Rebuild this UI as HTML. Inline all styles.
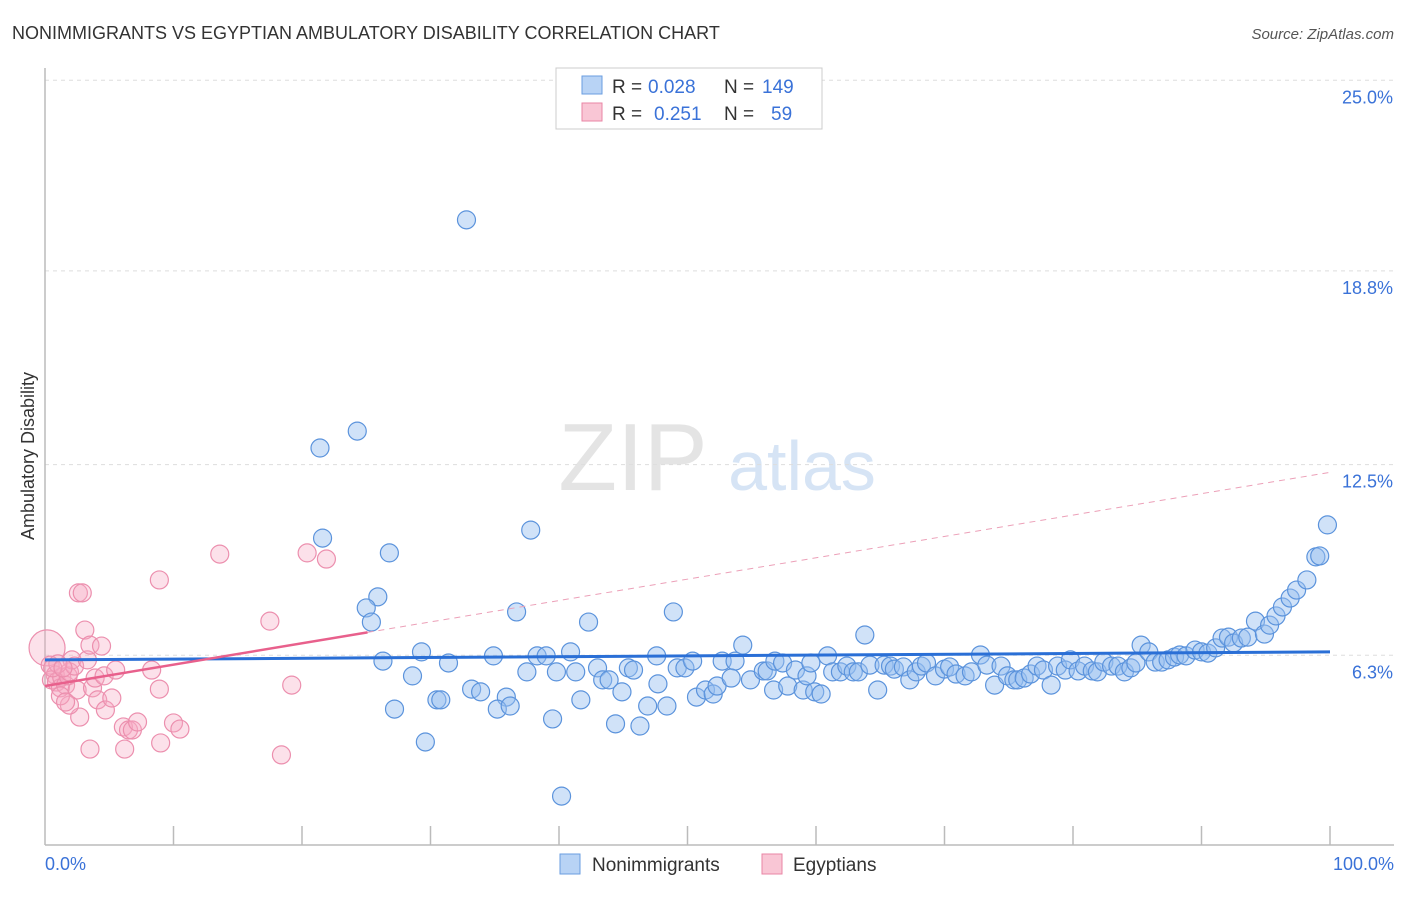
<!DOCTYPE html>
<html><head><meta charset="utf-8"><style>
body{margin:0;background:#fff;font-family:"Liberation Sans",sans-serif;}
svg text{font-family:"Liberation Sans",sans-serif;}
</style></head><body>
<svg id="chart" width="1406" height="892" xmlns="http://www.w3.org/2000/svg">
<text x="12" y="39" font-size="18" fill="#333">NONIMMIGRANTS VS EGYPTIAN AMBULATORY DISABILITY CORRELATION CHART</text>
<text x="1394" y="39" font-size="15" fill="#555" text-anchor="end" font-style="italic">Source: ZipAtlas.com</text>
<g>
<text x="633" y="490" font-size="96" fill="#e4e4e4" text-anchor="middle" font-family="Liberation Serif">ZIP</text>
<text x="802" y="490" font-size="70" fill="#d6e4f5" text-anchor="middle">atlas</text>
</g>
<g id="grid"></g>
<g id="axes"></g>
<g id="marks"></g>
<text transform="translate(34,456) rotate(-90)" font-size="18" fill="#333" text-anchor="middle">Ambulatory Disability</text>
<g>
<rect x="556" y="68" width="266" height="61" fill="#fff" stroke="#ccc"/>
<rect x="582" y="76" width="20" height="18" fill="#b8d3f5" stroke="#6a9ee0"/>
<text x="612" y="93" font-size="19" fill="#333">R =</text><text x="648" y="93" font-size="19" fill="#3a72d8">0.028</text>
<text x="724" y="93" font-size="19" fill="#333">N =</text><text x="762" y="93" font-size="19" fill="#3a72d8">149</text>
<rect x="582" y="103" width="20" height="18" fill="#f9c6d5" stroke="#e985a5"/>
<text x="612" y="120" font-size="19" fill="#333">R =</text><text x="654" y="120" font-size="19" fill="#3a72d8">0.251</text>
<text x="724" y="120" font-size="19" fill="#333">N =</text><text x="771" y="120" font-size="19" fill="#3a72d8">59</text>
</g>
<g>
<rect x="560" y="854" width="20" height="20" fill="#b8d3f5" stroke="#6a9ee0"/>
<text x="592" y="871" font-size="19" fill="#333">Nonimmigrants</text>
<rect x="762" y="854" width="20" height="20" fill="#f9c6d5" stroke="#e985a5"/>
<text x="793" y="871" font-size="19" fill="#333">Egyptians</text>
</g>
</svg>
<script>
const yTicks=[6.3,12.5,18.8,25.0];
const yTickLabels=["6.3%","12.5%","18.8%","25.0%"];
const xTickLabels=["0.0%","100.0%"];
const blueX=[32.8,21.4,24.3,37.8,21.6,26.8,25.9,25.0,25.4,36.7,48.9,42.3,54.3,63.8,29.3,26.3,31.4,34.9,38.3,39.0,40.9,28.6,27.2,30.5,30.8,29.6,33.2,33.9,35.9,35.2,36.2,39.5,40.2,37.5,39.8,41.3,43.0,43.4,43.9,41.7,44.9,44.4,46.3,45.4,45.8,47.7,47.6,46.9,48.4,49.2,49.8,50.4,50.7,51.4,52.0,52.3,52.7,53.7,53.4,54.9,55.9,56.2,56.8,57.4,56.7,57.8,58.4,59.0,59.3,59.6,59.9,60.4,60.9,61.3,61.9,62.4,62.9,63.3,64.2,64.8,65.3,65.8,66.1,66.8,67.3,67.8,68.2,68.6,69.3,70.0,70.4,70.9,71.6,72.1,72.8,73.3,73.9,74.4,74.9,75.4,75.7,76.2,76.7,77.2,77.7,78.3,78.8,79.4,79.8,80.4,80.9,81.5,81.9,82.4,83.0,83.5,84.0,84.5,84.9,85.3,85.9,86.4,86.9,87.4,87.9,88.3,88.8,89.5,90.0,90.5,91.1,91.6,92.1,92.5,93.1,93.6,94.2,94.9,95.3,95.8,96.3,96.9,97.4,98.2,98.9,99.2,99.8];
const blueY=[20.46,13.04,13.59,10.37,10.11,9.63,8.20,7.84,7.38,7.71,7.71,7.38,6.63,6.96,6.41,6.11,6.05,6.28,6.28,6.28,6.41,5.63,4.55,4.85,4.85,3.48,5.20,5.11,4.94,4.55,4.65,4.23,1.72,5.76,5.76,5.76,5.89,5.50,5.50,4.85,5.11,4.07,4.00,5.89,5.82,5.37,6.28,4.65,4.65,5.89,5.89,6.11,4.94,5.17,5.04,5.30,6.11,6.11,5.56,5.50,5.79,5.79,6.11,6.05,5.17,5.30,5.82,5.17,5.63,6.05,5.11,5.04,6.28,5.76,5.76,5.95,5.76,5.76,5.98,5.17,5.98,5.95,5.85,5.92,5.50,5.76,5.95,6.05,5.63,5.85,5.92,5.69,5.63,5.76,6.31,5.98,5.33,5.95,5.63,5.50,5.50,5.56,5.69,5.95,5.82,5.33,5.95,5.82,6.15,5.79,5.95,5.79,5.76,6.08,5.95,5.95,5.76,5.89,6.05,6.63,6.41,6.08,6.08,6.15,6.24,6.31,6.28,6.47,6.41,6.37,6.54,6.86,6.89,6.70,6.86,6.89,7.41,6.99,7.28,7.58,7.87,8.16,8.42,8.75,9.50,9.53,10.54];
const pinkX=[0.4,0.8,0.5,0.9,1.2,1.3,1.6,1.8,1.9,2.1,2.3,2.5,2.7,2.6,2.9,3.1,3.3,3.5,3.7,3.9,4.1,4.4,4.6,4.7,5.2,5.5,3.5,1.9,1.2,6.1,6.2,6.5,6.8,7.2,8.3,8.9,8.9,9.0,10.0,10.5,13.6,17.5,18.4,19.2,20.4,21.9,1.6,1.0,0.6,1.4];
const pinkY=[5.98,5.66,5.50,5.43,5.24,5.59,5.33,5.63,5.76,6.15,5.95,5.17,4.29,8.33,8.33,7.12,6.15,6.63,5.24,5.56,4.85,6.60,5.63,4.52,4.91,5.82,3.25,4.68,4.98,3.97,3.25,3.87,3.87,4.13,5.82,8.75,5.20,3.45,4.10,3.90,9.59,7.41,3.06,5.33,9.63,9.43,4.78,6.02,5.89,5.89];
const blueTrend=[6.15,6.41];
const pinkTrend=[5.30,12.25];
const pinkSolidEnd=25.1;
const X0=45,X1=1330,YB=849,PPU=30.75;
const sx=v=>X0+(X1-X0)*v/100;
const sy=v=>YB-v*PPU;
const NS="http://www.w3.org/2000/svg";
function mk(tag,attrs,parent){const e=document.createElementNS(NS,tag);for(const k in attrs)e.setAttribute(k,attrs[k]);parent.appendChild(e);return e;}
const grid=document.getElementById('grid'),axes=document.getElementById('axes'),marks=document.getElementById('marks');
yTicks.forEach((t,i)=>{
 const g=mk('line',{x1:45,x2:1394,y1:sy(t),y2:sy(t),stroke:'#ddd','stroke-dasharray':'4,4'},grid);
 
 
 const l=mk('text',{x:1393,y:sy(t)+23,'font-size':18,fill:'#3a72d8','text-anchor':'end'},axes);
 l.textContent=yTickLabels[i];
 
 
});
const ya=mk('line',{x1:45,x2:45,y1:68,y2:845,stroke:'#bbb','stroke-width':1.5},axes);


const xa=mk('line',{x1:45,x2:1394,y1:845,y2:845,stroke:'#bbb','stroke-width':1.5},axes);


for(let i=1;i<=10;i++){const t=mk('line',{x1:sx(i*10),x2:sx(i*10),y1:826,y2:845,stroke:'#bbb','stroke-width':1.5},axes);
 
 }
[[0,'start',45],[100,'end',1394]].forEach((a,i)=>{const l=mk('text',{x:a[2],y:870,'font-size':18,fill:'#3a72d8','text-anchor':a[1]},axes);l.textContent=xTickLabels[i];
 
 });
blueX.forEach((x,i)=>{const c=mk('circle',{cx:sx(x),cy:sy(blueY[i]),r:9,fill:'rgba(150,190,240,0.45)',stroke:'#5b93dc','stroke-width':1.2},marks);
 
 });
const big=mk('circle',{cx:sx(0.16),cy:sy(6.54),r:18,fill:'rgba(245,170,195,0.35)',stroke:'#ec8fae','stroke-width':1.2},marks);


pinkX.forEach((x,i)=>{const c=mk('circle',{cx:sx(x),cy:sy(pinkY[i]),r:9,fill:'rgba(245,170,195,0.35)',stroke:'#ec8fae','stroke-width':1.2},marks);
 
 });
const bt=mk('line',{x1:sx(0),x2:sx(100),y1:sy(blueTrend[0]),y2:sy(blueTrend[1]),stroke:'#2a6fd6','stroke-width':3},marks);


const pAt=v=>pinkTrend[0]+(pinkTrend[1]-pinkTrend[0])*v/100;
const pd=mk('line',{x1:sx(pinkSolidEnd),x2:sx(100),y1:sy(pAt(pinkSolidEnd)),y2:sy(pinkTrend[1]),stroke:'#eca0b8','stroke-width':1,'stroke-dasharray':'6,5'},marks);


const ps=mk('line',{x1:sx(0),x2:sx(pinkSolidEnd),y1:sy(pinkTrend[0]),y2:sy(pAt(pinkSolidEnd)),stroke:'#e8608c','stroke-width':2.5},marks);


</script>
</body></html>
